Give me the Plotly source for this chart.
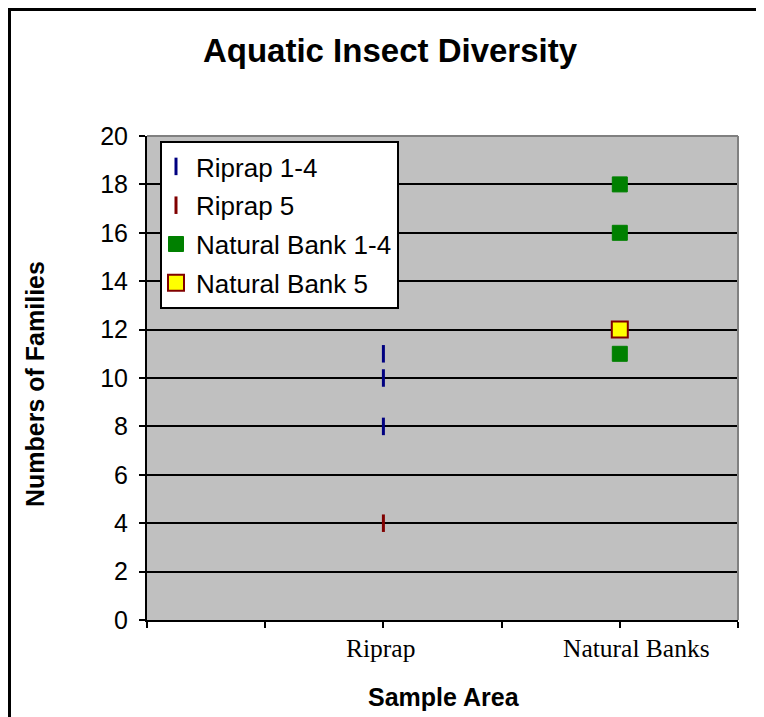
import plotly.graph_objects as go

# categories on the x axis and where they sit (axis runs 0..5)
categories = ["Riprap", "Natural Banks"]
category_pos = [2, 4]

# number of families found per sample site
riprap_1_4 = [11, 10, 8]
riprap_5 = [4]
natural_1_4 = [18, 16, 11]
natural_5 = [12]

y_ticks = [0, 2, 4, 6, 8, 10, 12, 14, 16, 18, 20]

# the page puts the figure 8px in from the top-left corner
OFF = 8
W, H = 764 - OFF, 717 - OFF
L, T = 147 - OFF, 136 - OFF
R = W - (738 - OFF)
B = H - (620 - OFF)


def px_x(p):
    # reference pixel -> paper x
    return (p - OFF - L) / (W - L - R)


def px_y(p):
    # reference pixel -> paper y
    return (H - B - (p - OFF)) / (H - T - B)


fig = go.Figure()

fig.add_trace(go.Scatter(
    x=[category_pos[0]] * len(riprap_1_4), y=riprap_1_4,
    mode="markers", name="Riprap 1-4", legendgroup="a",
    marker=dict(symbol="line-ns", size=12.5, line=dict(width=3, color="#000080"))
))
fig.add_trace(go.Scatter(
    x=[category_pos[0]] * len(riprap_5), y=riprap_5,
    mode="markers", name="Riprap 5", legendgroup="b",
    marker=dict(symbol="line-ns", size=12.5, line=dict(width=3, color="#800000"))
))
fig.add_trace(go.Scatter(
    x=[category_pos[1]] * len(natural_1_4), y=natural_1_4,
    mode="markers", name="Natural Bank 1-4", legendgroup="c",
    marker=dict(symbol="square", size=15, color="#008000", line=dict(width=1, color="#008000"))
))
fig.add_trace(go.Scatter(
    x=[category_pos[1]] * len(natural_5), y=natural_5,
    mode="markers", name="Natural Bank 5", legendgroup="d",
    marker=dict(symbol="square", size=16, color="#FFFF00", line=dict(width=2, color="#800000"))
))

fig.update_layout(
    width=W, height=H,
    margin=dict(l=L, r=R, t=T, b=B),
    paper_bgcolor="white",
    plot_bgcolor="#C0C0C0",
    font=dict(family="Liberation Sans, Arial", size=25, color="black"),
    title=dict(
        text="<b>Aquatic Insect Diversity</b>",
        x=(390 - OFF) / W, xanchor="center",
        y=1 - (50 - OFF) / H, yanchor="middle",
        font=dict(size=33, family="Liberation Sans, Arial")
    ),
    xaxis=dict(
        range=[0, 5],
        tickmode="array",
        tickvals=[0, 1, 2, 3, 4, 5],
        ticktext=[""] * 6,
        ticks="outside", ticklen=6, tickwidth=2, tickcolor="black",
        showline=True, linecolor="black", linewidth=2,
        showgrid=False, zeroline=False,
    ),
    yaxis=dict(
        range=[0, 20],
        tickmode="array",
        tickvals=y_ticks,
        ticks="outside", ticklen=6, tickwidth=1.5, tickcolor="black",
        ticklabelstandoff=6,
        showline=True, linecolor="black", linewidth=2,
        showgrid=True, gridcolor="black", gridwidth=1.5,
        zeroline=False,
        tickfont=dict(size=25),
    ),
    legend=dict(
        x=px_x(160), y=px_y(141), xanchor="left", yanchor="top",
        bgcolor="white", bordercolor="black", borderwidth=2,
        font=dict(size=26),
        itemwidth=30,
        indentation=-6,
        traceorder="grouped",
        tracegroupgap=2,
    ),
    showlegend=True,
)

# gray frame on top / right of the plot area
fig.add_shape(type="line", xref="paper", yref="paper", x0=0, x1=1, y0=1, y1=1,
              line=dict(color="#808080", width=2))
fig.add_shape(type="line", xref="paper", yref="paper", x0=1, x1=1, y0=0, y1=1,
              line=dict(color="#808080", width=2))

# outer chart frame, only left and top edges are visible
fig.add_shape(type="line", xref="paper", yref="paper",
              x0=px_x(9.5), x1=px_x(9.5), y0=px_y(8), y1=px_y(730),
              line=dict(color="black", width=3))
fig.add_shape(type="line", xref="paper", yref="paper",
              x0=px_x(8), x1=px_x(780), y0=px_y(9.5), y1=px_y(9.5),
              line=dict(color="black", width=3))

# category labels (Times-like font as in the original)
label_px = [380, 636]
for lab, lx in zip(categories, label_px):
    fig.add_annotation(
        text=lab, xref="paper", yref="paper",
        x=px_x(lx), y=px_y(648), xanchor="center", yanchor="middle",
        showarrow=False,
        font=dict(family="Liberation Serif, Times New Roman", size=25.5)
    )

# axis titles
fig.add_annotation(
    text="<b>Sample Area</b>", xref="paper", yref="paper",
    x=px_x(444), y=px_y(697), xanchor="center", yanchor="middle",
    showarrow=False, font=dict(size=25)
)
fig.add_annotation(
    text="<b>Numbers of Families</b>", xref="paper", yref="paper",
    x=px_x(35), y=px_y(384), xanchor="center", yanchor="middle",
    textangle=-90, showarrow=False, font=dict(size=25)
)

fig.write_html("out.html")
